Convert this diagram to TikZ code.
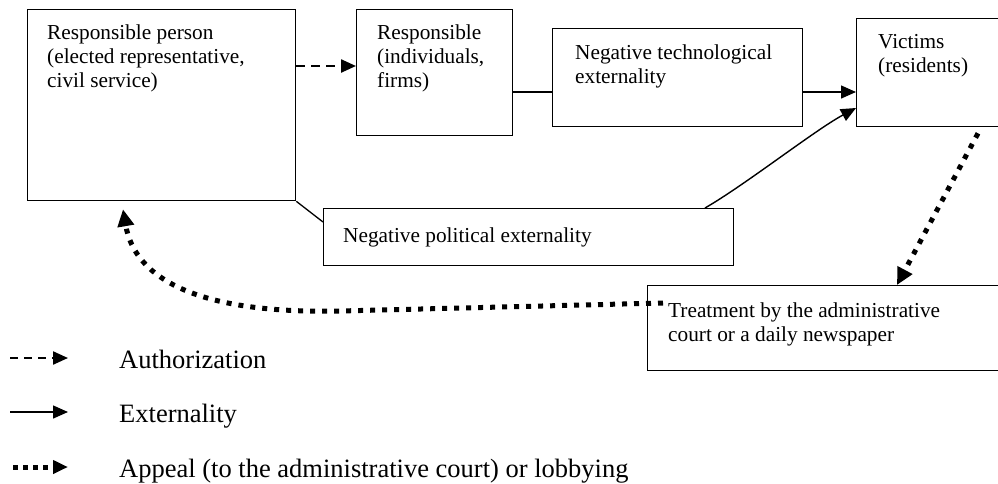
\documentclass[tikz,border=0pt]{standalone}
\usepackage{fontspec}
\setmainfont{Liberation Serif}
\usetikzlibrary{arrows.meta,calc}
\begin{document}
\begin{tikzpicture}[x=1pt,y=-1pt,
  box/.style={draw, line width=1.3pt, inner sep=0pt, anchor=north west},
  boxtext/.style={anchor=base west, align=left, inner sep=0pt, font=\fontsize{21.3}{24}\selectfont},
  legtext/.style={anchor=base west, inner sep=0pt, font=\fontsize{26.5}{30}\selectfont},
  tipa/.style={-{Triangle[length=15pt,width=13pt]}},
  authar/.style={tipa, line width=2.4pt, dash pattern=on 9pt off 6pt},
  extar/.style={tipa, line width=1.4pt},
  appar/.style={-{Triangle[length=17pt,width=16pt]}, line width=5pt, dash pattern=on 5pt off 7pt},
  link/.style={line width=1.3pt}]
\clip (0,0) rectangle (998,483);
% boxes
\node[box, minimum width=268pt, minimum height=191pt] (A) at (27,9) {};
\node[box, minimum width=156pt, minimum height=126pt] (B) at (356,9) {};
\node[box, minimum width=250pt, minimum height=98pt] (C) at (552,28) {};
\node[box, minimum width=160pt, minimum height=108pt] (D) at (856,18) {};
\node[box, minimum width=410pt, minimum height=57pt] (E) at (323,208) {};
\node[box, minimum width=370pt, minimum height=85pt] (F) at (647,285) {};
% texts (base anchor = baseline of last line)
\node[boxtext] (At) at (47,87) {Responsible person\\(elected representative,\\civil service)};
\node[boxtext] (Bt) at (377,87) {Responsible\\(individuals,\\firms)};
\node[boxtext] (Ct) at (575,83) {Negative technological\\externality};
\node[boxtext] (Dt) at (878,72) {Victims\\(residents)};
\node[boxtext] (Et) at (343,242) {Negative political externality};
\node[boxtext] (Ft) at (668,341) {Treatment by the administrative\\court or a daily newspaper};
% connectors
\draw[authar] ($(A.north east)+(0,57)$) -- ($(B.north west)+(0,57)$);
\draw[link] ($(B.north east)+(0,83)$) -- ($(C.north west)+(0,64)$);
\draw[extar] ($(C.north east)+(0,64)$) -- ($(D.north west)+(0,74)$);
\draw[link] (A.south east) -- ($(E.north west)+(0,14)$);
\draw[extar] ($(E.north west)+(382,0)$) .. controls (745,185) and (815,130) .. ($(D.north west)+(0,90)$);
\draw[appar] ($(D.south west)+(122,6)$) -- ($(F.north west)+(250,0)$);
\coordinate (bendstart) at (340,311);
\draw[appar] ($(F.north west)+(16,18)$) -- (bendstart) .. controls (200,314) and (135,280) .. ($(A.south west)+(96,8)$);
% legend
\coordinate (l1a) at (10,358); \coordinate (l1b) at (68,358);
\coordinate (l2a) at (10,412); \coordinate (l2b) at (68,412);
\coordinate (l3a) at (13,467); \coordinate (l3b) at (68,467);
\draw[authar, line width=2.2pt, dash pattern=on 8pt off 6pt] (l1a) -- (l1b);
\draw[extar] (l2a) -- (l2b);
\draw[appar, -{Triangle[length=15pt,width=13pt]}, dash pattern=on 5pt off 5pt] (l3a) -- (l3b);
\node[legtext] (L1) at (119,368) {Authorization};
\node[legtext] (L2) at (119,422) {Externality};
\node[legtext] (L3) at (119,477) {Appeal (to the administrative court) or lobbying};
\end{tikzpicture}
\end{document}
